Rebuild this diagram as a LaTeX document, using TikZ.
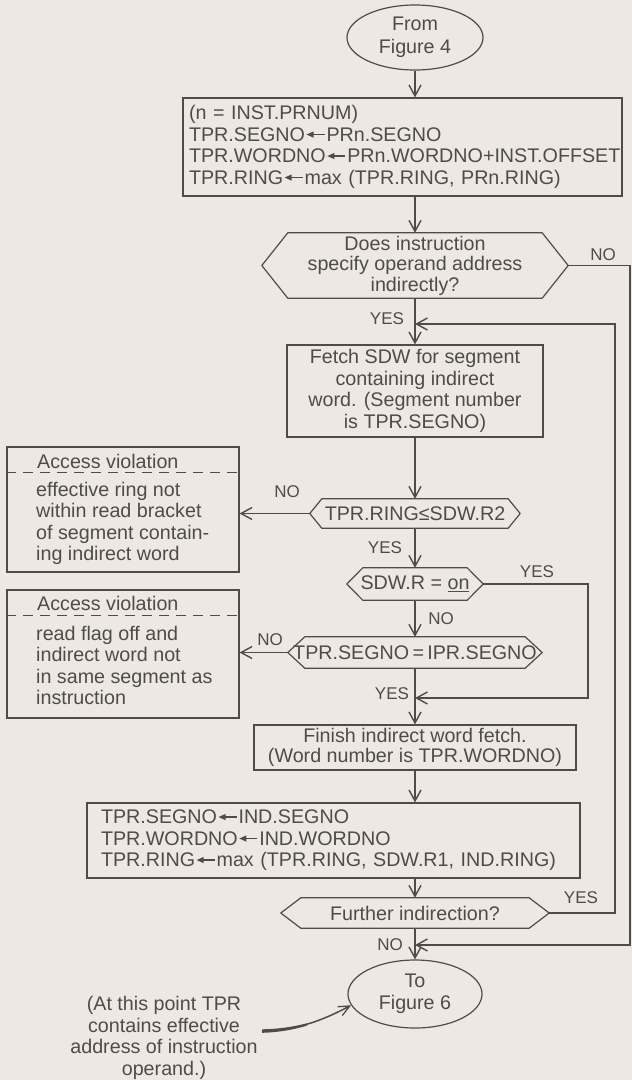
\documentclass[tikz,border=0pt]{standalone}
\usepackage{fontspec}
\setmainfont{Liberation Sans}
\usetikzlibrary{arrows.meta,shapes.geometric}
\definecolor{paper}{RGB}{237,232,226}
\definecolor{ink}{RGB}{78,76,74}
% outline of a decision node: flat top and bottom, pointed ends
\newcommand{\hexoutline}[2]{%
  \draw[outl] (#1.west) -- ([xshift=#2pt]#1.north west) -- ([xshift=-#2pt]#1.north east)
    -- (#1.east) -- ([xshift=-#2pt]#1.south east) -- ([xshift=#2pt]#1.south west) -- cycle;}
% assignment arrow, set once and reused in the boxes
\newsavebox{\asgbox}
\newcommand{\asg}{\kern1.5pt\usebox{\asgbox}\kern2pt}
\begin{document}
\sbox{\asgbox}{\color{ink}\begin{pgfpicture}
  \pgfpathrectangle{\pgfpoint{0pt}{0pt}}{\pgfpoint{18pt}{10pt}}\pgfusepath{use as bounding box}
  \pgfpathrectangle{\pgfpoint{5pt}{6.15pt}}{\pgfpoint{13pt}{1.3pt}}\pgfusepath{fill}
  \pgfpathmoveto{\pgfpoint{0pt}{6.8pt}}\pgfpathlineto{\pgfpoint{7pt}{9.9pt}}%
  \pgfpathlineto{\pgfpoint{7pt}{3.7pt}}\pgfpathclose\pgfusepath{fill}
  \pgfsetbaseline{0pt}
\end{pgfpicture}}%
\begin{tikzpicture}[x=1pt,y=-1pt,
  every node/.style={text=ink, font=\fontsize{19.7}{21.5}\selectfont},
  box/.style={draw=ink, line width=1.2pt, rectangle, inner sep=0pt},
  term/.style={draw=ink, line width=1.2pt, ellipse, inner sep=0pt, align=center},
  hexnode/.style={rectangle, inner sep=0pt, align=center},
  lbl/.style={font=\fontsize{17}{19}\selectfont, inner sep=0pt},
  link/.style={draw=ink, line width=1.8pt},
  flow/.style={link, -{Straight Barb[length=11pt,width=12pt,line width=1.4pt]}},
  outl/.style={draw=ink, line width=1.2pt, line join=round},
]
\fill[paper] (0,0) rectangle (632,1080);
\useasboundingbox (0,0) rectangle (632,1080);

% terminals
\node[term, minimum width=136pt, minimum height=65pt,
      font=\fontsize{19.7}{23}\selectfont] (from) at (415,37.5) {From\\Figure 4};
\node[term, minimum width=134pt, minimum height=68pt] (to) at (415,994) {To\\Figure 6};

% process boxes
\node[box, minimum width=439pt, minimum height=98pt, text width=427pt, align=left]
  (set1) at (402.5,147)
  {(n = INST.PRNUM)\\TPR.SEGNO\asg PRn.SEGNO\\TPR.WORDNO\asg PRn.WORDNO+INST.OFFSET\\TPR.RING\asg max (TPR.RING, PRn.RING)};
\node[box, minimum width=256pt, minimum height=92pt, align=center] (fetch) at (415,391)
  {Fetch SDW for segment\\containing indirect\\word. (Segment number\\is TPR.SEGNO)};
\node[box, minimum width=322pt, minimum height=45pt, align=center,
      font=\fontsize{19.7}{20.5}\selectfont] (fin) at (415,747.5)
  {Finish indirect word fetch.\\(Word number is TPR.WORDNO)};
\node[box, minimum width=493pt, minimum height=75pt, text width=465pt, align=left]
  (set2) at (333.5,840.5)
  {TPR.SEGNO\asg IND.SEGNO\\TPR.WORDNO\asg IND.WORDNO\\TPR.RING\asg max (TPR.RING, SDW.R1, IND.RING)};

% decisions
\node[hexnode, minimum width=306pt, minimum height=65pt,
      font=\fontsize{19.7}{20.5}\selectfont] (ask) at (415,265.5)
  {Does instruction\\specify operand address\\indirectly?};
\hexoutline{ask}{26}
\node[hexnode, minimum width=210pt, minimum height=29pt] (ringchk) at (415,513.5) {TPR.RING≤SDW.R2};
\hexoutline{ringchk}{12}
\node[hexnode, minimum width=136pt, minimum height=32pt] (rflag) at (415,584) {SDW.R = \underline{on}};
\hexoutline{rflag}{16}
\node[hexnode, minimum width=254pt, minimum height=31pt] (segchk) at (415,652.5) {TPR.SEGNO\,=\,IPR.SEGNO};
\hexoutline{segchk}{17}
\node[hexnode, minimum width=268pt, minimum height=30pt] (furth) at (415,913) {Further indirection?};
\hexoutline{furth}{20}

% access violation boxes
\node[box, minimum width=232pt, minimum height=125pt] (av1) at (123,509.5) {};
\draw[outl, dash pattern=on 10pt off 7pt] ([yshift=-26pt]av1.north west) -- ([yshift=-26pt]av1.north east);
\node[anchor=west, inner sep=0pt] (av1h) at (37,461) {Access violation};
\node[anchor=west, inner sep=0pt, align=left] (av1b) at (36,523.5)
  {effective ring not\\within read bracket\\of segment contain-\\ing indirect word};

\node[box, minimum width=232pt, minimum height=128pt] (av2) at (123,654) {};
\draw[outl, dash pattern=on 10pt off 7pt] ([yshift=-26pt]av2.north west) -- ([yshift=-26pt]av2.north east);
\node[anchor=west, inner sep=0pt] (av2h) at (37,603) {Access violation};
\node[anchor=west, inner sep=0pt, align=left] (av2b) at (36,665.5)
  {read flag off and\\indirect word not\\in same segment as\\instruction};

% annotation
\node[align=center, inner sep=0pt, font=\fontsize{19.7}{21.7}\selectfont] (note) at (164,1038)
  {(At this point TPR\\contains effective\\address of instruction\\operand.)};

% rails and merge points
\coordinate (railO) at (630,0);
\coordinate (railL) at (615,0);
\coordinate (railS) at (588,0);
\coordinate (mA) at (415,324);
\coordinate (mB) at (415,698);
\coordinate (mC) at (415,945);
\coordinate (notetail) at (262,1031);

% main flow
\draw[flow] (from.south) -- (from.south |- set1.north);
\draw[flow] (ask.north |- set1.south) -- (ask.north);
\draw[flow] (ask.south) -- (fetch.north);
\draw[flow] (fetch.south) -- (ringchk.north);
\draw[flow] (ringchk.south) -- (rflag.north);
\draw[flow] (rflag.south) -- (segchk.north);
\draw[flow] (segchk.south) -- (fin.north);
\draw[flow] (fin.south) -- (fin.south |- set2.north);
\draw[flow] (furth.north |- set2.south) -- (furth.north);
\draw[flow] (furth.south) -- (to.north);

% branches
\draw[flow] (ringchk.west) -- (ringchk.west -| av1.east);
\draw[flow] (segchk.west) -- (segchk.west -| av2.east);
\draw[flow] (ask.east) -- (ask.east -| railO) |- (mC);
\draw[flow] (furth.east) -- (furth.east -| railL) |- (mA);
\draw[flow] (rflag.east) -- (rflag.east -| railS) |- (mB);

% pointer from the annotation: tapered brush stroke ending in an open head
\fill[ink] (262,1029.3) .. controls (279,1029) and (293,1026.8) .. (307,1023.4)
  -- (307,1025.6) .. controls (293,1029.8) and (279,1032.3) .. (262,1032.8) -- cycle;
\draw[draw=ink, line width=1.5pt, -{Straight Barb[length=11pt,width=10pt,line width=1.3pt]}]
  (notetail) .. controls (300,1030) and (325,1019) .. (to.190);

% branch labels
\node[lbl] (yes1) at (387,319) {YES};
\node[lbl] (no1) at (603,255) {NO};
\node[lbl] (no2) at (287,492) {NO};
\node[lbl] (yes2) at (385,548) {YES};
\node[lbl] (yes3) at (537,572) {YES};
\node[lbl] (no3) at (441,619) {NO};
\node[lbl] (no4) at (270,640) {NO};
\node[lbl] (yes4) at (392,694) {YES};
\node[lbl] (yes5) at (581,898) {YES};
\node[lbl] (no5) at (390,945) {NO};
\end{tikzpicture}
\end{document}
